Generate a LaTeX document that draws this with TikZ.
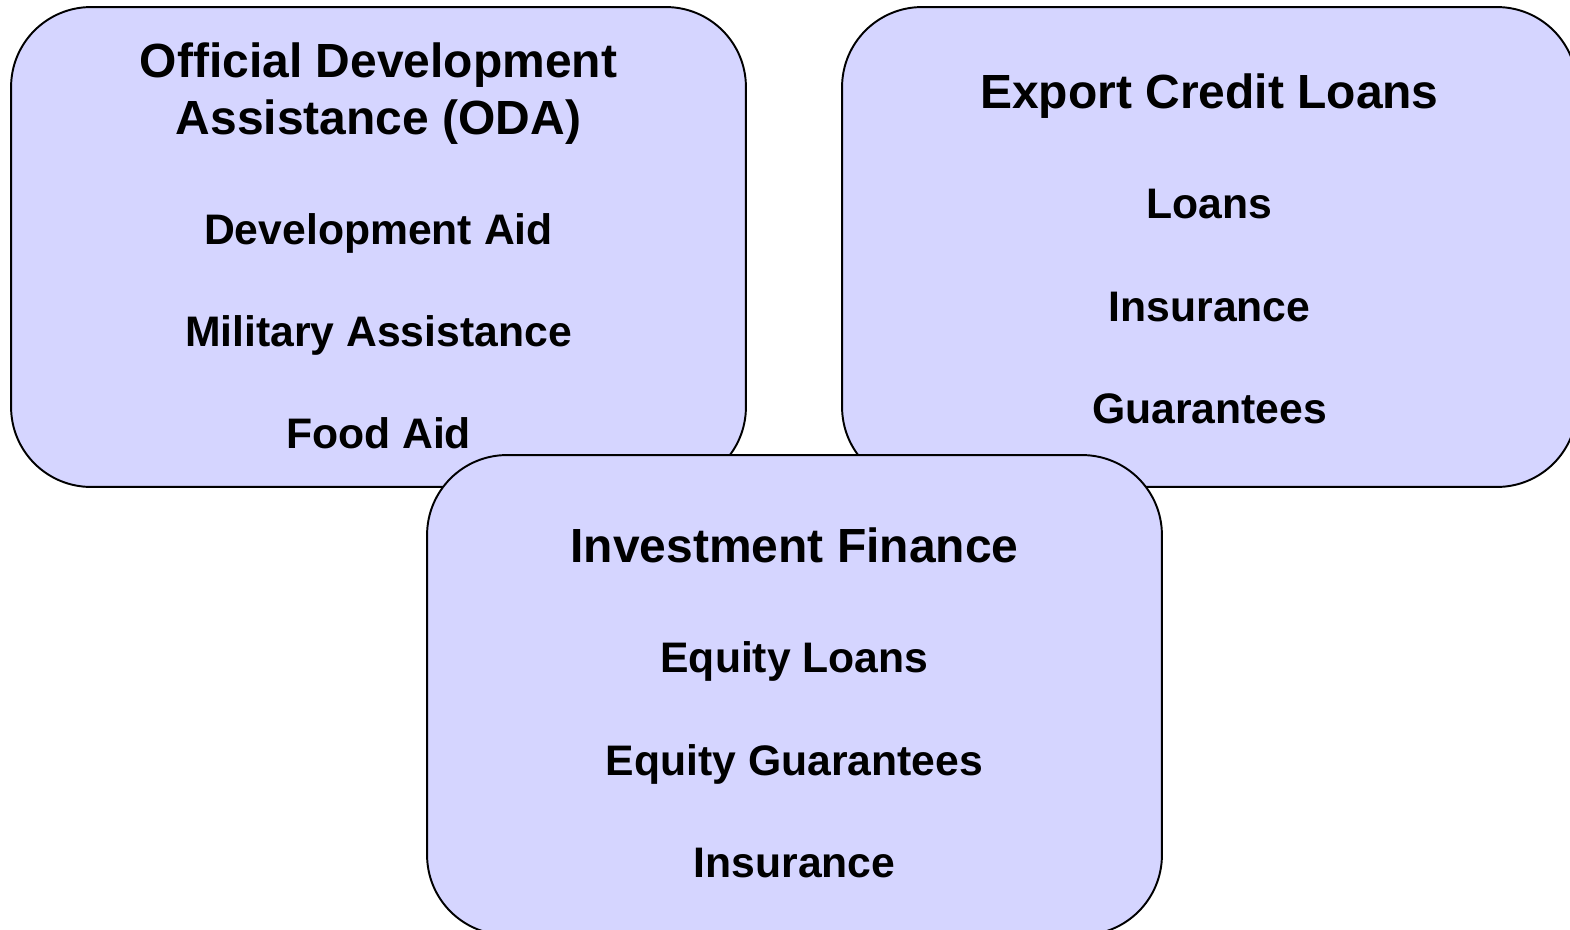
\documentclass[tikz,border=0pt]{standalone}
\usepackage{fontspec}
\setmainfont{Liberation Sans}
\usepackage{tikz}

\definecolor{boxfill}{RGB}{213,213,255}

\tikzset{
    panel/.style={draw=black, line width=1.1pt, fill=boxfill, rounded corners=1.6cm,
        minimum width=14.7cm, minimum height=9.6cm, inner sep=0pt},
    head/.style={font=\fontsize{27.3}{32}\selectfont\bfseries, anchor=base, align=center},
    entry/.style={font=\fontsize{24.3}{28}\selectfont\bfseries, anchor=base}
}

\begin{document}
\begin{tikzpicture}[x=0.02cm,y=-0.02cm]
	\useasboundingbox (0,0) rectangle (1570,930);

	% the two upper panels
	\node[panel] (oda) at (378.5,247) {};
	\node[panel] (ecl) at (1209.5,247) {};

	\node[head] (odahead) at (378.5,77) {Official Development};
	\node[head] (odahead2) at (378.5,134) {Assistance (ODA)};
	\node[entry] (devaid) at (378.5,244) {Development Aid};
	\node[entry] (milaid) at (378.5,346) {Military Assistance};
	\node[entry] (foodaid) at (378.5,448) {Food Aid};

	\node[head] (eclhead) at (1209.5,108) {Export Credit Loans};
	\node[entry] (ecloans) at (1209.5,218) {Loans};
	\node[entry] (ecins) at (1209.5,321) {Insurance};
	\node[entry] (ecguar) at (1209.5,423) {Guarantees};

	% lower panel, on top
	\node[panel] (inv) at (794.5,695) {};
	\node[head] (invhead) at (794.5,562) {Investment Finance};
	\node[entry] (eqloans) at (794.5,672) {Equity Loans};
	\node[entry] (eqguar) at (794.5,775) {Equity Guarantees};
	\node[entry] (invins) at (794.5,877) {Insurance};
\end{tikzpicture}
\end{document}
